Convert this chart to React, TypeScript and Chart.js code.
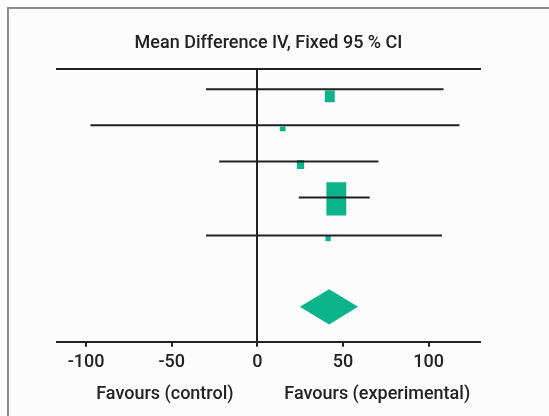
import React, { useEffect, useRef } from "react";
import { Chart, registerables } from "chart.js";

Chart.register(...registerables);

const titleText = "Mean Difference IV, Fixed 95 % CI";
const tickValues = [-100, -50, 0, 50, 100];
const favourLabels = ["Favours (control)", "Favours (experimental)"];
const favourPositions = [-54, 70];

// studies
const rowPos = [0, 1, 2, 3, 4.05];
const studyEst = [42.3, 14.8, 25.2, 46.1, 41.3];
const studyLo = [-30, -97.5, -22.3, 24.2, -30];
const studyHi = [108.7, 118, 70.7, 65.6, 107.8];
const boxHalfWidth = [2.9, 1.7, 2.1, 5.8, 1.55];
const boxTop = [0.03, 0.03, -0.04, -0.42, 0.02];
const boxBottom = [0.36, 0.16, 0.21, 0.5, 0.16];

// pooled
const pooledRow = 6.03;
const pooledEst = 41.9;
const pooledLo = 24.8;
const pooledHi = 58.8;
const pooledHalfHeight = 0.49;

const X_MIN = -117;
const X_MAX = 130;
const Y_MIN = -0.56;
const Y_MAX = 7.0;

const INK = "#222222";
const GREEN = "#0cb48c";
const FONT = "Roboto";

export default function App() {
  const ref = useRef<HTMLCanvasElement | null>(null);

  useEffect(() => {
    if (!ref.current) return;
    const datasets: any[] = [];

    studyEst.forEach((est, i) => {
      datasets.push({
        label: "ci" + i,
        data: [
          { x: studyLo[i], y: rowPos[i] },
          { x: studyHi[i], y: rowPos[i] },
        ],
        showLine: true,
        borderColor: INK,
        borderWidth: 2,
        pointRadius: 0,
        order: 0,
      });
      const t = rowPos[i] + boxTop[i];
      const b = rowPos[i] + boxBottom[i];
      const l = est - boxHalfWidth[i];
      const r = est + boxHalfWidth[i];
      datasets.push({
        label: "box" + i,
        data: [
          { x: l, y: t },
          { x: r, y: t },
          { x: r, y: b },
          { x: l, y: b },
          { x: l, y: t },
        ],
        showLine: true,
        fill: "shape",
        backgroundColor: GREEN,
        borderColor: GREEN,
        borderWidth: 0,
        pointRadius: 0,
        tension: 0,
        order: 1,
      });
    });

    datasets.push({
      label: "pooled",
      data: [
        { x: pooledLo, y: pooledRow },
        { x: pooledEst, y: pooledRow - pooledHalfHeight },
        { x: pooledHi, y: pooledRow },
        { x: pooledEst, y: pooledRow + pooledHalfHeight },
        { x: pooledLo, y: pooledRow },
      ],
      showLine: true,
      fill: "shape",
      backgroundColor: GREEN,
      borderColor: GREEN,
      borderWidth: 0,
      pointRadius: 0,
      tension: 0,
      order: 1,
    });

    const chart = new Chart(ref.current, {
      type: "scatter",
      data: { datasets },
      options: {
        animation: false,
        responsive: false,
        maintainAspectRatio: false,
        layout: { padding: { left: 57, right: 69, top: 33, bottom: 6 } },
        plugins: {
          legend: { display: false },
          tooltip: { enabled: false },
          title: {
            display: true,
            text: titleText,
            color: INK,
            font: { family: FONT, size: 18, weight: "500" },
            padding: { top: 0, bottom: 14.5 },
          },
        },
        scales: {
          x: {
            type: "linear",
            position: "bottom",
            min: X_MIN,
            max: X_MAX,
            afterBuildTicks: (scale: any) => {
              scale.ticks = tickValues.map((v) => ({ value: v }));
            },
            ticks: {
              color: INK,
              padding: 5,
              font: { family: FONT, size: 18, weight: "500" },
              maxRotation: 0,
              autoSkip: false,
            },
            grid: {
              color: (ctx: any) => (ctx.tick && ctx.tick.value === 0 ? INK : "transparent"),
              tickColor: INK,
              lineWidth: 2,
              tickLength: 5,
            },
            border: { display: true, color: INK, width: 2 },
          },
          x2: {
            type: "linear",
            position: "bottom",
            min: X_MIN,
            max: X_MAX,
            afterBuildTicks: (scale: any) => {
              scale.ticks = favourPositions.map((v) => ({ value: v }));
            },
            ticks: {
              color: INK,
              padding: 5,
              font: { family: FONT, size: 18, weight: "500" },
              maxRotation: 0,
              autoSkip: false,
              callback: (_v: any, i: number) => favourLabels[i],
            },
            grid: { display: false, drawTicks: false },
            border: { display: false },
          },
          xTop: {
            type: "linear",
            position: "top",
            min: X_MIN,
            max: X_MAX,
            ticks: { display: false },
            grid: { color: "transparent", drawTicks: false, drawOnChartArea: false },
            border: { display: true, color: INK, width: 2 },
          },
          y: {
            type: "linear",
            reverse: true,
            min: Y_MIN,
            max: Y_MAX,
            display: false,
          },
        },
      },
    });
    return () => chart.destroy();
  }, []);

  return (
    <div
      style={{
        position: "fixed",
        left: 0,
        top: 0,
        width: 549,
        height: 416,
        background: "#ffffff",
      }}
    >
      <div
        style={{
          position: "absolute",
          left: 7,
          top: 7,
          right: 0,
          bottom: 0,
          borderTop: "2px solid #8c8c8c",
          borderLeft: "2px solid #8c8c8c",
          background: "#fcfcfc",
        }}
      />
      <canvas
        ref={ref}
        width={549}
        height={416}
        style={{ position: "absolute", left: 0, top: 0, width: 549, height: 416 }}
      />
    </div>
  );
}
